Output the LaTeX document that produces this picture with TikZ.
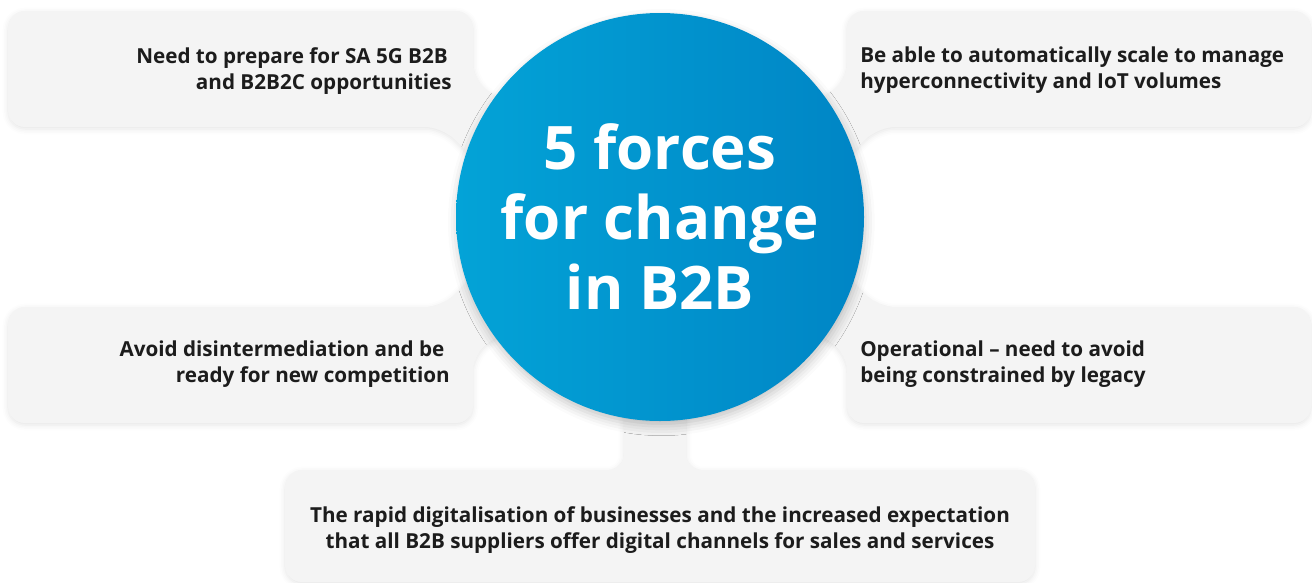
\documentclass[tikz,border=0pt]{standalone}
\usepackage{fontspec}
\setmainfont{Open Sans}
% lighter cut for the card texts, heavier one for the hub when they are there
\IfFontExistsTF{Open Sans SemiBold}
  {\newfontfamily\forcefont{Open Sans SemiBold}\def\forcesize{16}}
  {\newcommand\forcefont{\bfseries}\def\forcesize{15.5}}
\IfFontExistsTF{Open Sans ExtraBold}
  {\newfontfamily\hubfont{Open Sans ExtraBold}\def\hubsize{43.5}}
  {\newcommand\hubfont{\bfseries}\def\hubsize{45}}
\usepackage{tikz}
\usetikzlibrary{positioning,shadows.blur}
\definecolor{cardF}{HTML}{F4F4F4}
\definecolor{ink}{HTML}{1C1C1C}
\definecolor{hubL}{HTML}{03A3D7}
\definecolor{hubR}{HTML}{0085C5}
\tikzset{
  card/.style={fill=cardF, rounded corners=12.75pt,
               blur shadow={shadow xshift=0pt, shadow yshift=-1.5pt,
                            shadow blur radius=4pt, shadow opacity=10}},
  hub/.style={circle, minimum size=306pt, inner sep=0pt, left color=hubL, right color=hubR,
              text=white, align=center, font=\hubfont\fontsize{\hubsize}{52.5}\selectfont,
              blur shadow={shadow xshift=1pt, shadow yshift=-4pt,
                           shadow blur radius=7pt, shadow opacity=22}},
  force/.style={font=\forcefont\fontsize{\forcesize}{19.5}\selectfont, text=ink, inner sep=0pt},
}

\begin{document}
\begin{tikzpicture}[x=0.75pt, y=-0.75pt]
  \useasboundingbox (0,0) rectangle (1312,582);

  % ------------------------------------------------ cards, each with its arm to the hub
  \fill[card] (8,11) -- (473,11) -- (473,80) -- (560,142) -- (522,207) -- (442,127) -- (8,127) -- cycle;
  \fill[card] (1311,11) -- (847,11) -- (847,80) -- (760,142) -- (798,207) -- (878,127) -- (1311,127) -- cycle;
  \fill[card] (8,423) -- (473,423) -- (473,354) -- (560,292) -- (522,227) -- (442,307) -- (8,307) -- cycle;
  \fill[card] (1311,423) -- (847,423) -- (847,354) -- (760,292) -- (798,227) -- (878,307) -- (1311,307) -- cycle;
  \fill[card] (285,470) -- (624,470) -- (624,395) -- (686,395) -- (686,470) -- (1035,470)
    -- (1035,582) -- (285,582) -- cycle;

  % ------------------------------------------------ the hub
  \node[hub] (hub) at (660,217) {5 forces\\for change\\in B2B};

  % ------------------------------------------------ the five forces
  \node[force, align=right, anchor=north east] (prep) at (452,47)
    {Need to prepare for SA 5G B2B\hspace*{3pt}\\and B2B2C opportunities};
  \node[force, align=left, anchor=north west] (scale) at (860,47)
    {Be able to automatically scale to manage\\hyperconnectivity and IoT volumes};
  \node[force, align=right, anchor=north east] (avoid) at (450,341)
    {Avoid disintermediation and be\hspace*{4pt}\\ready for new competition};
  \node[force, align=left, anchor=north west] (legacy) at (860,341)
    {Operational -- need to avoid\\being constrained by legacy};
  \node[force, align=center, anchor=north] (digital) at (660,506)
    {The rapid digitalisation of businesses and the increased expectation\\that all B2B suppliers offer digital channels for sales and services};
\end{tikzpicture}
\end{document}
